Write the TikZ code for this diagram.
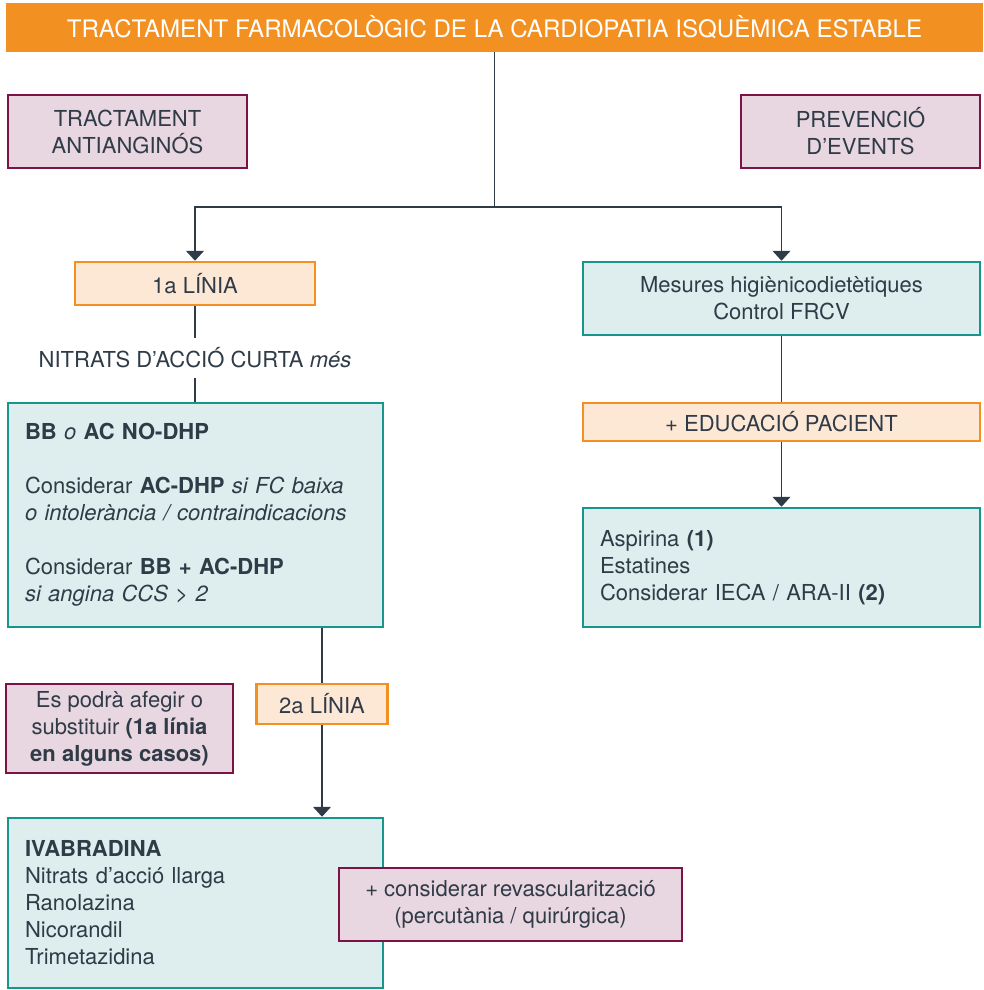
\documentclass[tikz,border=0pt]{standalone}
\usepackage{fontspec}
\setmainfont{TeX Gyre Heros}
\usetikzlibrary{arrows.meta}
\definecolor{taronja}{HTML}{F29121}
\definecolor{taronjafons}{HTML}{FDE8D6}
\definecolor{malva}{HTML}{7B1347}
\definecolor{malvafons}{HTML}{E8D6E0}
\definecolor{verd}{HTML}{17968D}
\definecolor{verdfons}{HTML}{DEEDED}
\definecolor{tinta}{HTML}{2F3B47}
\tikzset{
  caixa/.style={draw, line width=2.5pt, inner sep=0pt, text=tinta,
    font=\fontsize{22}{27}\selectfont, align=center},
  caixamalva/.style={caixa, draw=malva, fill=malvafons, line width=2.8pt},
  caixataronja/.style={caixa, draw=taronja, fill=taronjafons},
  caixaverd/.style={caixa, draw=verd, fill=verdfons},
  llista/.style={caixaverd, align=left, inner xsep=17pt},
  fletxa/.style={draw=tinta, line width=1.3pt, -{Triangle[width=18pt,length=10pt]}},
  linia/.style={draw=tinta, line width=1.3pt}
}
\begin{document}
\begin{tikzpicture}[x=1pt,y=-1pt]
\useasboundingbox (0,0) rectangle (983,990);
% capcalera
\node[fill=taronja, minimum width=977pt, minimum height=49pt, inner sep=0pt,
  text=white, font=\fontsize{24.1}{28}\selectfont] (titol) at (494.5,27.5)
  {TRACTAMENT FARMACOLÒGIC DE LA CARDIOPATIA ISQUÈMICA ESTABLE};
% etiquetes de branca
\node[caixamalva, minimum width=239pt, minimum height=73pt] (antiang) at (127.5,131.5)
  {TRACTAMENT\\ANTIANGINÓS};
\node[caixamalva, minimum width=239pt, minimum height=73pt] (prevencio) at (860.5,131.5)
  {PREVENCIÓ\\D’EVENTS};
% branca esquerra
\node[caixataronja, minimum width=240pt, minimum height=43pt] (linia1) at (195,283.5)
  {1a LÍNIA};
\node[text=tinta, font=\fontsize{22}{27}\selectfont, inner sep=10pt] (nitrats) at (195,358)
  {NITRATS D’ACCIÓ CURTA \textit{més}};
\node[llista, text width=341pt, minimum height=224pt] (bb) at (195.5,515)
  {\textbf{BB} \textit{o} \textbf{AC NO-DHP}\\[27pt]
   Considerar \textbf{AC-DHP} \textit{si FC baixa}\\
   \textit{o intolerància / contraindicacions}\\[27pt]
   Considerar \textbf{BB + AC-DHP}\\
   \textit{si angina CCS > 2}};
\node[caixamalva, minimum width=227pt, minimum height=89pt] (substituir) at (119.5,728.5)
  {Es podrà afegir o\\substituir \textbf{(1a línia}\\\textbf{en alguns casos)}};
\node[caixataronja, minimum width=131pt, minimum height=40pt] (linia2) at (322,704)
  {2a LÍNIA};
\node[llista, text width=341pt, minimum height=170pt] (ivab) at (195.5,903)
  {\textbf{IVABRADINA}\\
   Nitrats d’acció llarga\\
   Ranolazina\\
   Nicorandil\\
   Trimetazidina};
\node[caixamalva, minimum width=343pt, minimum height=73pt] (revasc) at (510.5,904.5)
  {+ considerar revascularització\\(percutània / quirúrgica)};
% branca dreta
\node[caixaverd, minimum width=397pt, minimum height=73pt] (mesures) at (781.5,298.5)
  {Mesures higiènicodietètiques\\Control FRCV};
\node[caixataronja, minimum width=397pt, minimum height=38pt] (educacio) at (781.5,422)
  {+ EDUCACIÓ PACIENT};
\node[llista, text width=363pt, minimum height=119pt] (aspirina) at (781.5,567.5)
  {Aspirina \textbf{(1)}\\
   Estatines\\
   Considerar IECA / ARA-II \textbf{(2)}};
% connexions
\coordinate (bifurca) at (titol.south |- 0,207);
\draw[linia] (titol.south) -- (bifurca);
\draw[fletxa] (bifurca) -| (linia1.north);
\draw[fletxa] (bifurca) -| (mesures.north);
\draw[linia] (linia1.south) -- (nitrats.north);
\draw[linia] (nitrats.south) -- (nitrats.south |- bb.north);
\draw[linia] (bb.south -| linia2.north) -- (linia2.north);
\draw[fletxa] (linia2.south) -- (linia2.south |- ivab.north);
\draw[linia] (mesures.south) -- (educacio.north);
\draw[fletxa] (educacio.south) -- (aspirina.north);
\end{tikzpicture}
\end{document}
